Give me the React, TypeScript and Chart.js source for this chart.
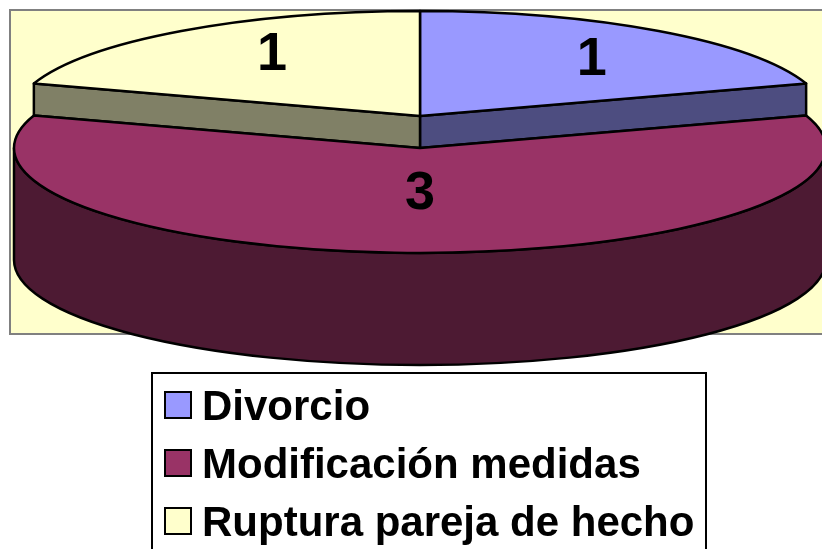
import React, { useEffect, useRef } from "react";
import { Chart, registerables } from "chart.js";

Chart.register(...registerables);

const categories = ["Divorcio", "Modificación medidas", "Ruptura pareja de hecho"];
const seriesValues = [1, 3, 1];

const topColors = ["#9999FF", "#993366", "#FFFFCC"];
const wallColors = ["#4D4D80", "#4D1A33", "#808066"];

// projection of the library's pie onto the tilted ellipse
const CX = 420;
const RX = 406;
const RY = 105;
const faceCenterY = [116, 148, 116];
const wallDepth = [32, 112, 32];
const labelRadius = [0.72, 0.44, 0.62];
const labelLift = [-5, 0, 8];

const drawPie3D = {
  id: "pie3d",
  beforeDraw(chart: any) {
    const ctx = chart.ctx;
    ctx.save();
    ctx.fillStyle = "#FFFFCC";
    ctx.strokeStyle = "#808080";
    ctx.lineWidth = 2;
    ctx.fillRect(10, 10, 830, 324);
    ctx.strokeRect(10, 10, 830, 324);
    ctx.fillStyle = "#FFFFFF";
    ctx.strokeStyle = "#000000";
    ctx.fillRect(152, 373, 554, 200);
    ctx.strokeRect(152, 373, 554, 200);
    ctx.restore();
  },
  afterLayout(chart: any) {
    const l = chart.legend;
    l.left = 161;
    l.right = 705;
    l.top = 371;
    l.bottom = 600;
    l.width = l.right - l.left;
    l.height = l.bottom - l.top;
  },
  beforeDatasetDraw(chart: any) {
    const ctx = chart.ctx;
    const arcs = chart.getDatasetMeta(0).data;
    const mid = (a: any) => (a.startAngle + a.endAngle) / 2;
    const order = arcs
      .map((_: any, i: number) => i)
      .sort((a: number, b: number) => Math.sin(mid(arcs[a])) - Math.sin(mid(arcs[b])));
    ctx.save();
    ctx.strokeStyle = "#000000";
    ctx.lineWidth = 2.5;
    ctx.lineJoin = "round";
    for (const i of order) {
      const a = arcs[i];
      const cy = faceCenterY[i];
      const d = wallDepth[i];
      ctx.fillStyle = wallColors[i];
      ctx.beginPath();
      if (Math.sin(mid(a)) > 0) {
        ctx.ellipse(CX, cy, RX, RY, 0, 0, Math.PI, false);
        ctx.ellipse(CX, cy + d, RX, RY, 0, Math.PI, 0, true);
      } else {
        const e = Math.sin(a.startAngle) > Math.sin(a.endAngle) ? a.startAngle : a.endAngle;
        const x = CX + RX * Math.cos(e);
        const y = cy + RY * Math.sin(e);
        ctx.moveTo(CX, cy);
        ctx.lineTo(x, y);
        ctx.lineTo(x, y + d);
        ctx.lineTo(CX, cy + d);
      }
      ctx.closePath();
      ctx.fill();
      ctx.stroke();

      ctx.fillStyle = topColors[i];
      ctx.beginPath();
      ctx.moveTo(CX, cy);
      ctx.ellipse(CX, cy, RX, RY, 0, a.startAngle, a.endAngle, false);
      ctx.closePath();
      ctx.fill();
      ctx.stroke();
    }
    ctx.fillStyle = "#000000";
    ctx.font = "bold 54px 'Liberation Sans'";
    ctx.textAlign = "center";
    ctx.textBaseline = "middle";
    arcs.forEach((a: any, i: number) => {
      const x = CX + RX * labelRadius[i] * Math.cos(mid(a));
      const y = faceCenterY[i] + RY * labelRadius[i] * Math.sin(mid(a)) - labelLift[i];
      ctx.fillText(String(seriesValues[i]), x, y);
    });
    ctx.restore();
    return false;
  },
};

function swatch(color: string) {
  const c = document.createElement("canvas");
  c.width = 32;
  c.height = 36;
  const g = c.getContext("2d") as CanvasRenderingContext2D;
  g.fillStyle = color;
  g.strokeStyle = "#000000";
  g.lineWidth = 2;
  g.fillRect(2, 2, 26, 26);
  g.strokeRect(2, 2, 26, 26);
  return c;
}

export default function App() {
  const ref = useRef<HTMLCanvasElement>(null);
  useEffect(() => {
    const chart = new Chart(ref.current as HTMLCanvasElement, {
      type: "pie",
      data: {
        labels: categories,
        datasets: [{ data: seriesValues, backgroundColor: topColors, borderColor: "#000000", borderWidth: 2 }],
      },
      options: {
        responsive: false,
        animation: false,
        plugins: {
          tooltip: { enabled: false },
          legend: {
            position: "right",
            align: "start",
            labels: {
              color: "#000000",
              font: { family: "'Liberation Sans'", weight: "bold", size: 42 },
              usePointStyle: true,
              pointStyleWidth: 4,
              padding: 16,
              generateLabels(c: any) {
                const base = (Chart as any).overrides.doughnut.plugins.legend.labels.generateLabels(c);
                return base.map((it: any, i: number) => ({ ...it, pointStyle: swatch(topColors[i]) }));
              },
            },
          },
        },
      },
      plugins: [drawPie3D],
    } as any);
    return () => chart.destroy();
  }, []);
  return (
    <canvas
      ref={ref}
      width={822}
      height={549}
      style={{ position: "absolute", left: 0, top: 0, display: "block" }}
    />
  );
}
